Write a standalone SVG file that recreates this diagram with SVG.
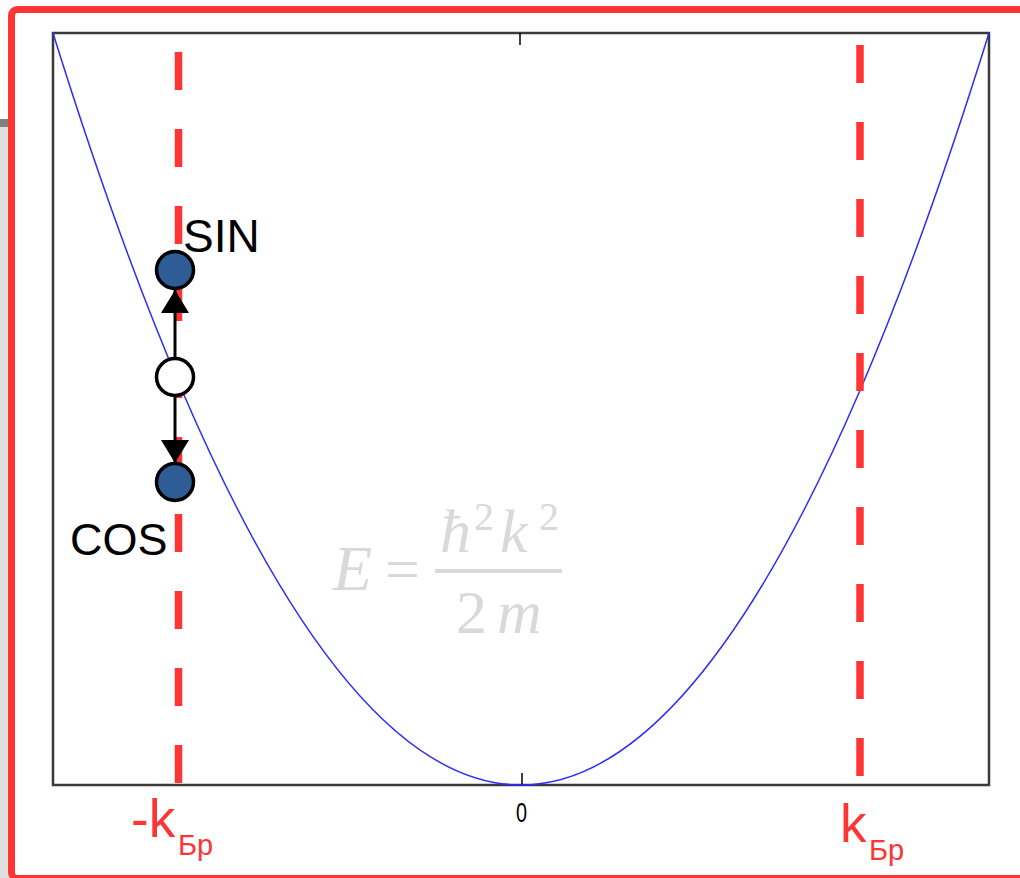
<svg xmlns="http://www.w3.org/2000/svg" width="1020" height="878" viewBox="0 0 1020 878">
  <defs>
    <style>
      .dash { stroke: #fe3535; stroke-width: 7.5; stroke-dasharray: 38 39; fill: none; }
      .node { stroke: #000; stroke-width: 3.5; }
      .blue { fill: #2d5d94; }
      .white { fill: #fff; }
      .lbl { font-family: "Liberation Sans", Arial, sans-serif; fill: #000; }
      .red { font-family: "Liberation Sans", Arial, sans-serif; fill: #fe3535; }
      .fml { font-family: "Liberation Serif", "Times New Roman", serif; fill: #d9d9d9; }
      .conn { stroke: #000; stroke-width: 3; fill: none; }
    </style>
    <marker id="arrow" markerUnits="userSpaceOnUse" markerWidth="26" markerHeight="28" refX="23" refY="14" orient="auto">
      <path d="M0,0 L23,14 L0,28 z" fill="#000"/>
    </marker>
  </defs>

  <rect x="0" y="0" width="1020" height="878" fill="#fff"/>
  <!-- gray strip on left -->
  <rect x="0" y="119" width="9" height="8" fill="#808080"/>
  <rect x="0" y="127" width="9" height="751" fill="#dedede"/>

  <!-- red border -->
  <rect x="11.5" y="9.5" width="1030" height="869" rx="6" fill="none" stroke="#fe3535" stroke-width="7"/>

  <!-- plot frame -->
  <rect x="53" y="33" width="936" height="752" fill="none" stroke="#3a3a3a" stroke-width="2.5"/>
  <line x1="520" y1="33" x2="520" y2="45" stroke="#000" stroke-width="1.5"/>
  <line x1="522" y1="773" x2="522" y2="785" stroke="#000" stroke-width="1.5"/>
  <text x="516" y="822" class="lbl" font-size="28" textLength="11" lengthAdjust="spacingAndGlyphs">0</text>

  <!-- parabola -->
  <path d="M53,33 Q521,1537 989,33" fill="none" stroke="#2b2bff" stroke-width="1.5"/>

  <!-- dashed boundaries -->
  <line x1="178.5" y1="52" x2="178.5" y2="785" class="dash"/>
  <line x1="860" y1="45" x2="860" y2="785" class="dash"/>

  <!-- formula -->
  <g id="formula">
    <text x="333" y="590" class="fml" font-size="64" font-style="italic">E</text>
    <text x="385" y="590" class="fml" font-size="62">=</text>
    <rect x="435" y="569" width="127" height="4" fill="#d9d9d9"/>
    <text x="440" y="552" class="fml" font-size="62" font-style="italic">ħ</text>
    <text x="474" y="530" class="fml" font-size="40">2</text>
    <text x="500" y="552" class="fml" font-size="62" font-style="italic">k</text>
    <text x="539" y="530" class="fml" font-size="40">2</text>
    <text x="456" y="633" class="fml" font-size="62">2</text>
    <text x="497" y="633" class="fml" font-size="62" font-style="italic">m</text>
  </g>

  <!-- connectors -->
  <g id="connectors">
    <line x1="175" y1="357" x2="175" y2="290" class="conn" marker-end="url(#arrow)"/>
    <line x1="175" y1="397" x2="175" y2="463" class="conn" marker-end="url(#arrow)"/>
  </g>

  <!-- nodes -->
  <g id="node-sin">
    <circle cx="175" cy="270" r="18.5" class="node blue"/>
    <text x="183" y="252" class="lbl" font-size="46">SIN</text>
  </g>
  <g id="node-center">
    <circle cx="175" cy="377" r="18.5" class="node white"/>
  </g>
  <g id="node-cos">
    <circle cx="175" cy="482" r="18.5" class="node blue"/>
    <text x="70" y="555" class="lbl" font-size="45">COS</text>
  </g>

  <!-- axis labels -->
  <g id="label-neg-k">
    <text x="131" y="837" class="red" font-size="53">-k</text>
    <text x="178" y="855" class="red" font-size="29">Бр</text>
  </g>
  <g id="label-pos-k">
    <text x="840" y="842" class="red" font-size="53">k</text>
    <text x="869" y="860" class="red" font-size="29">Бр</text>
  </g>
</svg>
